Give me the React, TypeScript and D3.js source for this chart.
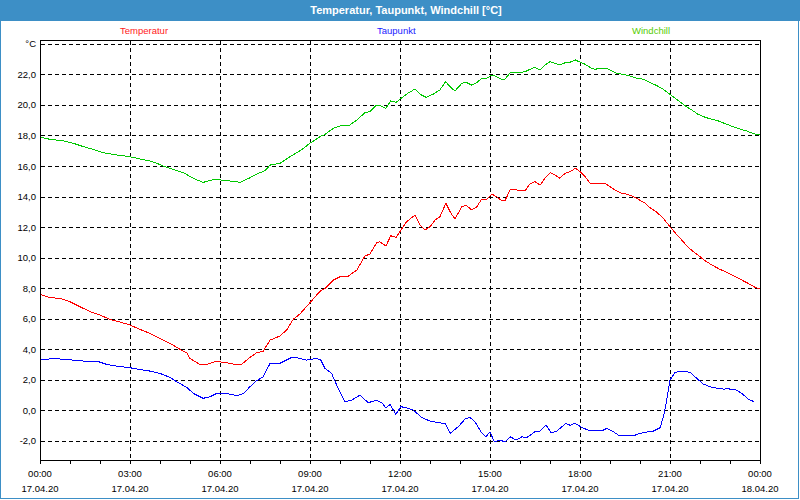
import React from "react";
import * as d3 from "d3";

const title = "Temperatur, Taupunkt, Windchill [°C]";
const seriesNames = ["Temperatur", "Taupunkt", "Windchill"];
const seriesColors = ["#ff0000", "#0000ff", "#00c800"];
const legendColors = ["#ff1a1a", "#1a1aff", "#55cc00"];

const timeTicks = ["00:00", "03:00", "06:00", "09:00", "12:00", "15:00", "18:00", "21:00", "00:00"];
const dateTicks = ["17.04.20", "17.04.20", "17.04.20", "17.04.20", "17.04.20", "17.04.20", "17.04.20", "17.04.20", "18.04.20"];
const yTickValues = [-2, 0, 2, 4, 6, 8, 10, 12, 14, 16, 18, 20, 22, 24];

// [hour, °C]
const temperatur: [number, number][] = [
  [0, 7.6], [0.33, 7.38], [0.67, 7.33], [1.0, 7.11], [1.33, 6.79], [1.67, 6.46], [2.0, 6.24],
  [2.33, 5.96], [2.67, 5.78], [3.0, 5.59], [3.33, 5.3], [3.67, 5.04], [4.0, 4.71], [4.33, 4.39],
  [4.67, 3.99], [4.89, 3.77], [5.0, 3.4], [5.33, 3.01], [5.5, 2.97], [5.67, 3.08], [5.89, 3.23],
  [6.11, 3.14], [6.33, 3.08], [6.56, 2.97], [6.72, 3.01], [7.0, 3.47], [7.22, 3.77], [7.44, 3.88],
  [7.67, 4.6], [8.0, 4.87], [8.22, 5.26], [8.44, 5.96], [8.67, 6.32], [9.0, 7.05], [9.33, 7.79],
  [9.5, 7.99], [9.78, 8.53], [10.0, 8.75], [10.28, 8.79], [10.56, 9.19], [10.83, 10.1], [11.0, 10.24],
  [11.22, 10.98], [11.33, 11.04], [11.53, 10.76], [11.69, 11.43], [11.87, 11.33], [12.0, 11.7],
  [12.22, 12.35], [12.5, 12.79], [12.67, 12.13], [12.83, 11.81], [13.0, 12.02], [13.17, 12.46],
  [13.33, 12.68], [13.53, 13.55], [13.67, 13.0], [13.83, 12.53], [14.06, 13.33], [14.2, 13.44],
  [14.39, 13.12], [14.56, 13.33], [14.72, 13.82], [14.89, 13.82], [15.06, 14.16], [15.22, 13.99],
  [15.39, 13.73], [15.5, 13.73], [15.67, 14.43], [15.89, 14.43], [16.17, 14.38], [16.33, 14.82],
  [16.5, 14.97], [16.67, 14.75], [16.83, 15.19], [17.0, 15.56], [17.17, 15.41], [17.33, 15.19],
  [17.5, 15.52], [17.67, 15.63], [17.85, 15.85], [18.0, 15.63], [18.17, 15.3], [18.33, 14.88],
  [18.83, 14.87], [19.0, 14.64], [19.17, 14.43], [19.33, 14.25], [19.56, 14.16], [19.78, 13.99],
  [19.94, 13.82], [20.17, 13.56], [20.33, 13.27], [20.56, 12.97], [20.78, 12.57], [21.0, 12.02],
  [21.17, 11.63], [21.44, 11.04], [21.61, 10.67], [21.78, 10.39], [22.0, 10.06], [22.22, 9.73],
  [22.44, 9.47], [22.67, 9.23], [22.89, 9.04], [23.11, 8.81], [23.33, 8.6], [23.56, 8.36],
  [23.83, 8.06], [24.0, 7.95],
];

const taupunkt: [number, number][] = [
  [0, 3.29], [0.44, 3.4], [0.78, 3.34], [1.11, 3.29], [1.44, 3.23], [1.89, 3.23], [2.22, 3.01],
  [2.56, 2.9], [3.0, 2.79], [3.33, 2.68], [3.67, 2.57], [4.0, 2.42], [4.33, 2.16], [4.61, 1.81],
  [4.89, 1.51], [5.11, 1.11], [5.44, 0.79], [5.67, 0.89], [5.89, 1.11], [6.11, 1.11], [6.39, 1.05],
  [6.56, 0.94], [6.78, 1.11], [7.0, 1.55], [7.22, 1.94], [7.44, 2.2], [7.67, 3.08], [8.0, 3.08],
  [8.39, 3.47], [8.56, 3.44], [8.89, 3.29], [9.2, 3.4], [9.36, 3.29], [9.5, 2.75], [9.72, 2.42],
  [9.94, 1.44], [10.17, 0.56], [10.39, 0.67], [10.67, 1.0], [10.94, 0.5], [11.22, 0.67], [11.39, 0.5],
  [11.53, 0.17], [11.67, 0.39], [11.86, -0.26], [12.03, 0.24], [12.22, 0.17], [12.44, 0.02],
  [12.72, -0.46], [13.0, -0.7], [13.28, -0.81], [13.5, -0.85], [13.67, -1.51], [13.94, -1.07],
  [14.17, -0.57], [14.33, -0.46], [14.5, -0.75], [14.72, -1.47], [14.87, -1.73], [15.0, -1.4],
  [15.14, -2.06], [15.33, -1.95], [15.5, -2.06], [15.69, -1.73], [15.87, -1.95], [16.06, -1.73],
  [16.22, -1.79], [16.5, -1.4], [16.67, -1.36], [16.87, -0.96], [17.03, -1.44], [17.2, -1.4],
  [17.53, -0.85], [17.67, -0.98], [17.83, -0.85], [18.06, -1.11], [18.33, -1.35], [18.78, -1.29],
  [18.89, -1.18], [19.11, -1.4], [19.28, -1.62], [19.78, -1.66], [19.94, -1.55], [20.17, -1.44],
  [20.44, -1.36], [20.67, -1.14], [20.78, -0.42], [20.89, 0.67], [21.0, 1.98], [21.17, 2.49],
  [21.44, 2.57], [21.67, 2.49], [21.89, 2.1], [22.11, 1.72], [22.39, 1.51], [22.78, 1.39],
  [22.94, 1.41], [23.22, 1.33], [23.39, 1.11], [23.61, 0.74], [23.81, 0.56],
];

const windchill: [number, number][] = [
  [0, 17.88], [0.33, 17.75], [0.78, 17.64], [1.11, 17.49], [1.44, 17.27], [1.78, 17.09], [2.11, 16.87],
  [2.56, 16.72], [3.0, 16.61], [3.33, 16.46], [3.67, 16.33], [3.89, 16.18], [4.11, 16.0], [4.44, 15.78],
  [4.78, 15.56], [5.11, 15.19], [5.44, 14.93], [5.83, 15.13], [6.06, 15.08], [6.33, 15.02], [6.67, 14.93],
  [7.0, 15.23], [7.22, 15.47], [7.5, 15.69], [7.67, 16.06], [8.0, 16.18], [8.33, 16.61], [8.67, 17.0],
  [9.0, 17.49], [9.33, 17.92], [9.5, 18.07], [9.78, 18.47], [10.0, 18.62], [10.28, 18.62], [10.56, 19.01],
  [10.83, 19.49], [11.0, 19.56], [11.22, 19.99], [11.33, 19.95], [11.53, 19.78], [11.69, 20.26],
  [11.87, 20.17], [12.0, 20.37], [12.22, 20.71], [12.5, 21.04], [12.67, 20.69], [12.87, 20.5],
  [13.11, 20.71], [13.33, 20.98], [13.52, 21.52], [13.67, 21.19], [13.83, 20.91], [14.06, 21.41],
  [14.2, 21.48], [14.39, 21.3], [14.56, 21.45], [14.72, 21.74], [14.89, 21.74], [15.06, 21.96],
  [15.22, 21.85], [15.39, 21.68], [15.5, 21.68], [15.67, 22.11], [15.89, 22.11], [16.17, 22.17],
  [16.33, 22.33], [16.5, 22.46], [16.67, 22.29], [16.83, 22.61], [17.0, 22.83], [17.17, 22.72],
  [17.33, 22.61], [17.5, 22.76], [17.67, 22.8], [17.85, 22.94], [18.0, 22.8], [18.17, 22.66],
  [18.39, 22.4], [18.5, 22.33], [18.67, 22.4], [18.87, 22.4], [19.06, 22.22], [19.22, 22.07],
  [19.44, 22.0], [19.67, 21.89], [19.89, 21.74], [20.11, 21.68], [20.33, 21.48], [20.56, 21.26],
  [20.78, 21.02], [21.0, 20.69], [21.22, 20.37], [21.5, 19.95], [21.72, 19.67], [21.94, 19.38],
  [22.17, 19.19], [22.39, 19.06], [22.61, 18.95], [22.89, 18.73], [23.11, 18.57], [23.33, 18.42],
  [23.56, 18.29], [23.83, 18.09], [24.0, 18.03],
];

const allSeries = [temperatur, taupunkt, windchill];

const W = 800;
const H = 500;
const FONT = "'Liberation Sans', Arial, sans-serif";

export default function App() {
  const x = d3.scaleLinear().domain([0, 24]).range([40, 760]);
  const y = d3.scaleLinear().domain([-3.25, 24.25]).range([460, 40]);
  const line = d3
    .line<[number, number]>()
    .x((d) => x(d[0]))
    .y((d) => y(d[1]));

  const hourTicks = d3.range(0, 25, 1);
  const majorHours = d3.range(0, 25, 3);
  const fmt = (v: number) => (v === 24 ? "°C" : d3.format(".1f")(v).replace(".", ",").replace("−", "-"));
  const legendX = [120, 377, 632];
  const blue = "#3d8fc6";

  return (
    <div style={{ position: "fixed", left: 0, top: 0, width: W, height: H }}>
      <svg width={W} height={H} style={{ display: "block", background: "#ffffff" }}>
        {/* window frame */}
        <rect x={0} y={0} width={W} height={21} fill={blue} />
        <rect x={0.5} y={0.5} width={798} height={498} fill="none" stroke={blue} strokeWidth={1} />
        <text
          x={406}
          y={14}
          textAnchor="middle"
          fill="#ffffff"
          fontFamily={FONT}
          fontWeight="bold"
          fontSize={11}
        >
          {title}
        </text>

        {/* legend */}
        {seriesNames.map((n, i) => (
          <text key={n} x={legendX[i]} y={34} fill={legendColors[i]} fontFamily={FONT} fontSize={9.5}>
            {n}
          </text>
        ))}

        {/* horizontal grid */}
        {yTickValues.map((v) => (
          <line
            key={"hg" + v}
            x1={41}
            x2={760}
            y1={Math.round(y(v)) + 0.5}
            y2={Math.round(y(v)) + 0.5}
            stroke="#000"
            strokeWidth={1}
            strokeDasharray="4,3"
            shapeRendering="crispEdges"
          />
        ))}
        {/* vertical grid */}
        {majorHours.slice(1, -1).map((h) => (
          <line
            key={"vg" + h}
            x1={Math.round(x(h)) + 0.5}
            x2={Math.round(x(h)) + 0.5}
            y1={41}
            y2={460}
            stroke="#000"
            strokeWidth={1}
            strokeDasharray="4,3"
            shapeRendering="crispEdges"
          />
        ))}

        {/* series */}
        {allSeries.map((s, i) => (
          <path
            key={"s" + i}
            d={line(s) || ""}
            fill="none"
            stroke={seriesColors[i]}
            strokeWidth={1}
            shapeRendering="crispEdges"
          />
        ))}

        {/* frame */}
        <rect x={40.5} y={40.5} width={720} height={420} fill="none" stroke="#000" strokeWidth={1} shapeRendering="crispEdges" />

        {/* x ticks */}
        {hourTicks.map((h) => (
          <line
            key={"xt" + h}
            x1={Math.round(x(h)) + 0.5}
            x2={Math.round(x(h)) + 0.5}
            y1={460}
            y2={464}
            stroke="#000"
            strokeWidth={1}
            shapeRendering="crispEdges"
          />
        ))}

        {/* x labels */}
        {majorHours.map((h, i) => (
          <g key={"xl" + h} fontFamily={FONT} fontSize={9.5} fill="#000" textAnchor="middle">
            <text x={x(h)} y={477}>{timeTicks[i]}</text>
            <text x={x(h)} y={492}>{dateTicks[i]}</text>
          </g>
        ))}

        {/* y labels */}
        {yTickValues.map((v) => (
          <text
            key={"yl" + v}
            x={36}
            y={y(v) + 3.5}
            textAnchor="end"
            fontFamily={FONT}
            fontSize={9.5}
            fill="#000"
          >
            {fmt(v)}
          </text>
        ))}
      </svg>
    </div>
  );
}
